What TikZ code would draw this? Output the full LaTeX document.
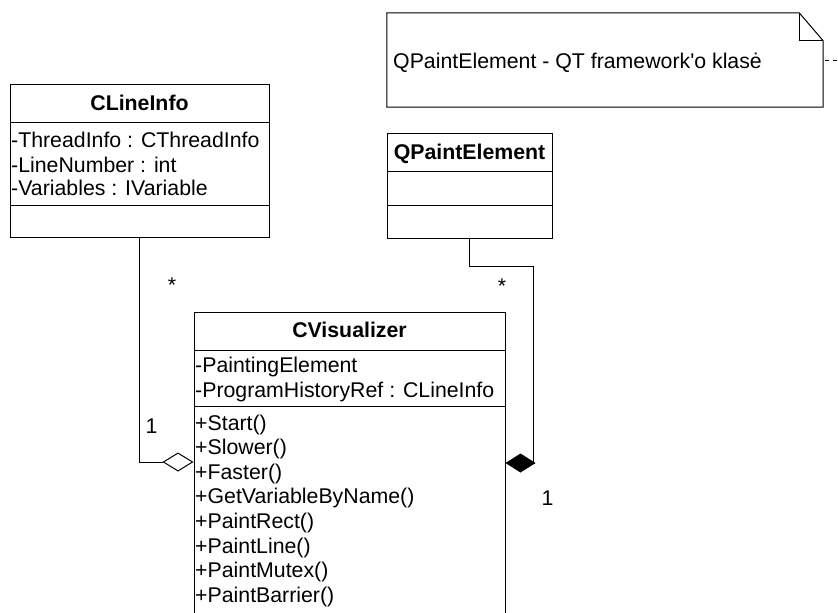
\documentclass[tikz,border=0pt]{standalone}
\usepackage{fontspec}
\setmainfont{Liberation Sans}[Ligatures=TeXOff]
\usetikzlibrary{arrows.meta}
\begin{document}
\begin{tikzpicture}[x=1pt,y=-1pt,
  box/.style={draw, line width=1pt, inner sep=0pt},
  divider/.style={line width=1pt},
  txt/.style={anchor=base west, inner sep=0pt, font=\fontsize{21.3}{24}\selectfont},
  hdr/.style={anchor=base, inner sep=0pt, font=\fontsize{21.3}{24}\selectfont\bfseries},
  lbl/.style={anchor=base, inner sep=0pt, font=\fontsize{21.3}{24}\selectfont},
  conn/.style={line width=1pt},
  aggtip/.style={-{Diamond[length=31pt,width=19pt,fill=white,line width=1pt]}},
  comptip/.style={-{Diamond[length=30pt,width=19pt,line width=1pt]}}]
\path[use as bounding box, clip] (0,0) rectangle (838,613);

% note
\node[inner sep=0pt, minimum width=436pt, minimum height=94pt] (note) at (605,60) {};
\draw[line width=1pt] (note.north west) -- ([xshift=-24pt]note.north east)
  -- ([yshift=-28pt]note.north east) -- (note.south east) -- (note.south west) -- cycle;
\draw[line width=1pt] ([xshift=-24pt]note.north east) -- ([xshift=-24pt,yshift=-28pt]note.north east)
  -- ([yshift=-28pt]note.north east);
\node[txt] (notetext) at (393,68) {QPaintElement - QT framework'o klasė};
\coordinate (noteEnd) at (838,60);
\draw[conn, dash pattern=on 4pt off 4pt, dash phase=6pt] (note.east) -- (noteEnd);

% CLineInfo
\node[box, minimum width=259pt, minimum height=153pt] (cli) at (139.5,160.5) {};
\draw[divider] ([yshift=-39pt]cli.north west) -- ([yshift=-39pt]cli.north east);
\draw[divider] ([yshift=-122pt]cli.north west) -- ([yshift=-122pt]cli.north east);
\node[hdr] (cliH) at (139.5,110) {CLineInfo};
\node[txt] (cliA1) at (11,147) {-ThreadInfo : CThreadInfo};
\node[txt] (cliA2) at (11,172) {-LineNumber : int};
\node[txt] (cliA3) at (11,195.5) {-Variables : IVariable};

% QPaintElement
\node[box, minimum width=165pt, minimum height=105pt] (qp) at (469.5,185.5) {};
\draw[divider] ([yshift=-39pt]qp.north west) -- ([yshift=-39pt]qp.north east);
\draw[divider] ([yshift=-73pt]qp.north west) -- ([yshift=-73pt]qp.north east);
\node[hdr] (qpH) at (469.5,159) {QPaintElement};

% CVisualizer
\node[box, minimum width=311pt, minimum height=340pt] (cv) at (349.5,482) {};
\draw[divider] ([yshift=-39pt]cv.north west) -- ([yshift=-39pt]cv.north east);
\draw[divider] ([yshift=-95pt]cv.north west) -- ([yshift=-95pt]cv.north east);
\node[hdr] (cvH) at (349.5,337) {CVisualizer};
\node[txt] (cvA1) at (195,372.5) {-PaintingElement};
\node[txt] (cvA2) at (195,397) {-ProgramHistoryRef : CLineInfo};
\node[txt] (cvM1) at (195,430) {+Start()};
\node[txt] (cvM2) at (195,454.6) {+Slower()};
\node[txt] (cvM3) at (195,479.2) {+Faster()};
\node[txt] (cvM4) at (195,503.8) {+GetVariableByName()};
\node[txt] (cvM5) at (195,528.4) {+PaintRect()};
\node[txt] (cvM6) at (195,553) {+PaintLine()};
\node[txt] (cvM7) at (195,577.6) {+PaintMutex()};
\node[txt] (cvM8) at (195,602.2) {+PaintBarrier()};

% connectors
\coordinate (yAgg) at (0,462);
\draw[conn, aggtip] (cli.south) |- (cv.west |- yAgg);

\coordinate (yBend) at (0,266);
\coordinate (xComp) at (533,0);
\coordinate (yComp) at (0,463);
\draw[conn, comptip] (qp.south) -- (qp.south |- yBend) -- (xComp |- yBend)
  -- (xComp |- yComp) -- (cv.east |- yComp);

% multiplicities
\node[lbl] (m1) at (172,292) {*};
\node[lbl] (m2) at (151.5,433) {1};
\node[lbl] (m3) at (502,293) {*};
\node[lbl] (m4) at (547.5,505) {1};
\end{tikzpicture}
\end{document}
